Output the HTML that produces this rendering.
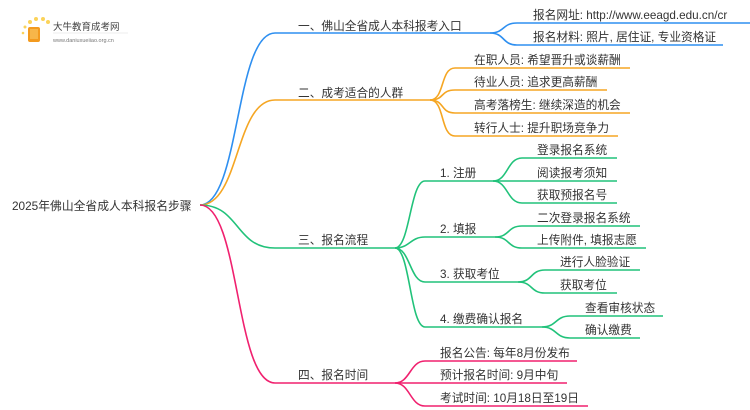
<!DOCTYPE html>
<html><head><meta charset="utf-8"><style>
html,body{margin:0;padding:0;background:#fff;}
svg{display:block;}
text{font-family:"Liberation Sans","Noto Sans CJK SC",sans-serif;font-size:11.7px;fill:#333;}
</style></head><body>
<svg width="750" height="410" viewBox="0 0 750 410" xmlns="http://www.w3.org/2000/svg">
<g fill="none" stroke-width="1.6">
<g stroke="#2e8ff0">
<path d="M200 205 C240 205 235 33 275 33 L490 33"/>
<path d="M490 33 C505 33 502 23 517 23 L750 23"/>
<path d="M490 33 C505 33 502 45 517 45 L723 45"/>
</g>
<g stroke="#f5a623">
<path d="M200 205 C240 205 235 100 275 100 L430 100"/>
<path d="M430 100 C445 100 440 68 455 68 L630 68"/>
<path d="M430 100 C445 100 440 90 455 90 L607 90"/>
<path d="M430 100 C445 100 440 113 455 113 L630 113"/>
<path d="M430 100 C445 100 440 136 455 136 L618 136"/>
</g>
<g stroke="#21c27a">
<path d="M200 205 C240 205 235 248 275 248 L395 248"/>
<path d="M395 248 C410 248 410 181 425 181 L493 181"/>
<path d="M395 248 C410 248 410 237 425 237 L495 237"/>
<path d="M395 248 C410 248 410 282 425 282 L518 282"/>
<path d="M395 248 C410 248 410 327 425 327 L542 327"/>
<path d="M493 181 C508 181 507 158 522 158 L617 158"/>
<path d="M493 181 L617 181"/>
<path d="M493 181 C508 181 507 203 522 203 L617 203"/>
<path d="M495 237 C510 237 507 226 522 226 L640 226"/>
<path d="M495 237 C510 237 507 248 522 248 L646 248"/>
<path d="M518 282 C533 282 530 270 545 270 L640 270"/>
<path d="M518 282 C533 282 530 293 545 293 L617 293"/>
<path d="M542 327 C557 327 555 316 570 316 L663 316"/>
<path d="M542 327 C557 327 555 338 570 338 L640 338"/>
</g>
<g stroke="#f0216f">
<path d="M200 205 C240 205 235 383 275 383 L395 383"/>
<path d="M395 383 C410 383 410 361 425 361 L577 361"/>
<path d="M395 383 L567 383"/>
<path d="M395 383 C410 383 410 406 425 406 L588 406"/>
</g>
</g>
<g>
<circle cx="30" cy="22" r="2" fill="#fbd35a"/><circle cx="36" cy="19" r="2" fill="#fbd35a"/>
<circle cx="43" cy="19" r="2" fill="#fbd35a"/><circle cx="48" cy="22" r="2" fill="#fbd35a"/>
<circle cx="25" cy="27" r="1.5" fill="#fbd35a"/><circle cx="23" cy="33" r="1.3" fill="#fbd35a"/>
<rect x="28" y="27" width="12" height="15" rx="2" fill="#f39a1e"/>
<rect x="30" y="29" width="8" height="10" fill="#f7b649"/>
<text x="53" y="30" style="font-size:9.5px;fill:#444">大牛教育成考网</text>
<text x="53" y="42" style="font-size:5.5px;fill:#777">www.daniuxueiiao.org.cn</text>
<line x1="53" y1="33" x2="128" y2="33" stroke="#ddd" stroke-width="0.6"/>
</g>
<text x="12" y="210" style="font-size:11.8px">2025年佛山全省成人本科报名步骤</text>
<text x="298" y="30">一、佛山全省成人本科报考入口</text>
<text x="533" y="19">报名网址: http://www.eeagd.edu.cn/cr</text>
<text x="533" y="41">报名材料: 照片, 居住证, 专业资格证</text>
<text x="298" y="97">二、成考适合的人群</text>
<text x="474" y="64">在职人员: 希望晋升或谈薪酬</text>
<text x="474" y="86">待业人员: 追求更高薪酬</text>
<text x="474" y="109">高考落榜生: 继续深造的机会</text>
<text x="474" y="132">转行人士: 提升职场竞争力</text>
<text x="298" y="244">三、报名流程</text>
<text x="440" y="177">1. 注册</text>
<text x="537" y="154">登录报名系统</text>
<text x="537" y="177">阅读报考须知</text>
<text x="537" y="199">获取预报名号</text>
<text x="440" y="233">2. 填报</text>
<text x="537" y="222">二次登录报名系统</text>
<text x="537" y="244">上传附件, 填报志愿</text>
<text x="440" y="278">3. 获取考位</text>
<text x="560" y="266">进行人脸验证</text>
<text x="560" y="289">获取考位</text>
<text x="440" y="323">4. 缴费确认报名</text>
<text x="585" y="312">查看审核状态</text>
<text x="585" y="334">确认缴费</text>
<text x="298" y="379">四、报名时间</text>
<text x="440" y="357">报名公告: 每年8月份发布</text>
<text x="440" y="379">预计报名时间: 9月中旬</text>
<text x="440" y="402">考试时间: 10月18日至19日</text>
</svg>
</body></html>
